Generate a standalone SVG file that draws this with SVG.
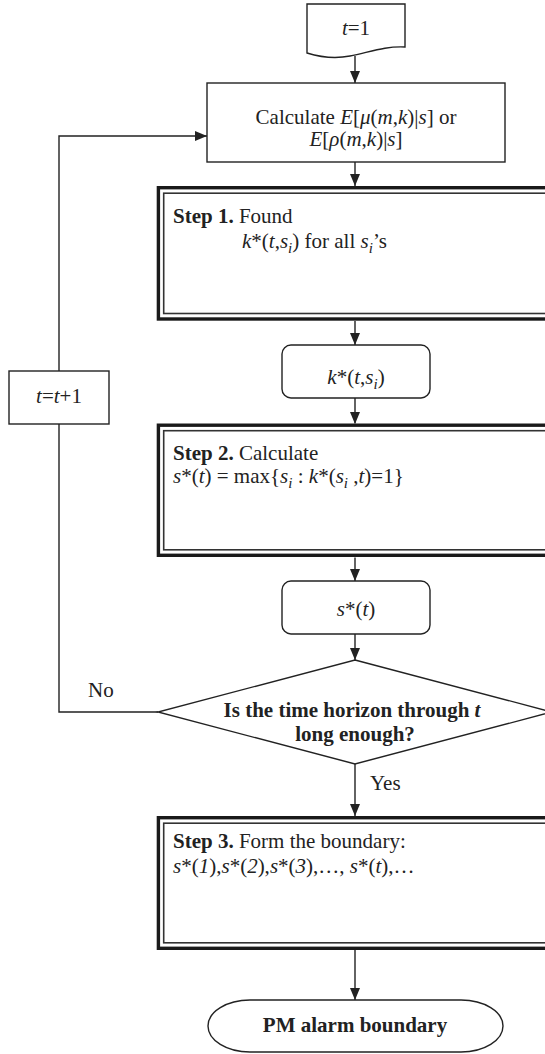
<svg xmlns="http://www.w3.org/2000/svg" width="545" height="1054" viewBox="0 0 545 1054">
<defs>
<style>
.ln{fill:none;stroke:#222;stroke-width:1.4}
.bx{fill:#fff;stroke:#222;stroke-width:1.4}
.o{fill:none;stroke:#1a1a1a;stroke-width:3.4}
.in{fill:none;stroke:#333;stroke-width:1.6}
text{font-family:"Liberation Serif","Times New Roman",serif;font-size:21px;fill:#222}
.c{text-anchor:middle}
.b{font-weight:bold}
.i{font-style:italic}
.sub{font-size:15px;font-style:italic}
</style>
<marker id="ah" markerUnits="userSpaceOnUse" markerWidth="12" markerHeight="10" refX="12" refY="5" orient="auto">
<path d="M0,0 L12,5 L0,10 Z" fill="#222"/>
</marker>
</defs>
<rect width="545" height="1054" fill="#fff"/>

<g id="connectors">
<line class="ln" x1="355" y1="56" x2="355" y2="83" marker-end="url(#ah)"/>
<line class="ln" x1="355" y1="162" x2="355" y2="186" marker-end="url(#ah)"/>
<line class="ln" x1="355" y1="321" x2="355" y2="345" marker-end="url(#ah)"/>
<line class="ln" x1="355" y1="398" x2="355" y2="424" marker-end="url(#ah)"/>
<line class="ln" x1="355" y1="557" x2="355" y2="581" marker-end="url(#ah)"/>
<line class="ln" x1="355" y1="634" x2="355" y2="660" marker-end="url(#ah)"/>
<line class="ln" x1="355" y1="764" x2="355" y2="816" marker-end="url(#ah)"/>
<line class="ln" x1="355" y1="950" x2="355" y2="1000" marker-end="url(#ah)"/>
<polyline class="ln" points="158,712 59,712 59,424"/>
<polyline class="ln" points="59,371 59,136 207,136" marker-end="url(#ah)"/>
<text x="88" y="697">No</text>
<text x="370" y="790">Yes</text>
</g>

<g id="start">
<path class="bx" d="M307,4 H405 V47 C385,46 370,52 350,56 C335,59 320,57 307,53 Z"/>
<text class="c" x="356" y="35"><tspan class="i">t</tspan>=1</text>
</g>

<g id="calc">
<rect class="bx" x="207" y="83" width="298" height="79"/>
<text class="c" x="356" y="124">Calculate <tspan class="i">E</tspan>[<tspan class="i">μ</tspan>(<tspan class="i">m</tspan>,<tspan class="i">k</tspan>)|<tspan class="i">s</tspan>] or</text>
<text class="c" x="356" y="146"><tspan class="i">E</tspan>[<tspan class="i">ρ</tspan>(<tspan class="i">m</tspan>,<tspan class="i">k</tspan>)|<tspan class="i">s</tspan>]</text>
</g>

<g id="step1">
<rect x="157" y="186" width="400" height="135" fill="#fff"/>
<rect class="o" x="158.4" y="187.7" width="400" height="131.3"/>
<rect class="in" x="163.7" y="193.2" width="400" height="120.3"/>
<text x="173" y="223"><tspan class="b">Step 1.</tspan> Found</text>
<text x="242" y="248"><tspan class="i">k</tspan>*(<tspan class="i">t</tspan>,<tspan class="i">s</tspan><tspan class="sub" dy="5">i</tspan><tspan dy="-5">) for all </tspan><tspan class="i">s</tspan><tspan class="sub" dy="5">i</tspan><tspan dy="-5">’s</tspan></text>
</g>

<g id="kstar">
<rect class="bx" x="282" y="345" width="148" height="53" rx="9"/>
<text class="c" x="356" y="384"><tspan class="i">k</tspan>*(<tspan class="i">t</tspan>,<tspan class="i">s</tspan><tspan class="sub" dy="5">i</tspan><tspan dy="-5">)</tspan></text>
</g>

<g id="tplus">
<rect class="bx" x="9" y="371" width="100" height="53"/>
<text class="c" x="59" y="403"><tspan class="i">t</tspan>=<tspan class="i">t</tspan>+1</text>
</g>

<g id="step2">
<rect x="157" y="423.5" width="400" height="134" fill="#fff"/>
<rect class="o" x="158.4" y="425.2" width="400" height="130.1"/>
<rect class="in" x="163.7" y="430.7" width="400" height="119.1"/>
<text x="173" y="460"><tspan class="b">Step 2.</tspan> Calculate</text>
<text x="173" y="483"><tspan class="i">s</tspan>*(<tspan class="i">t</tspan>) = max{<tspan class="i">s</tspan><tspan class="sub" dy="5">i</tspan><tspan dy="-5"> : </tspan><tspan class="i">k</tspan>*(<tspan class="i">s</tspan><tspan class="sub" dy="5">i</tspan><tspan dy="-5"> ,</tspan><tspan class="i">t</tspan>)=1}</text>
</g>

<g id="sstar">
<rect class="bx" x="282" y="581" width="148" height="53" rx="9"/>
<text class="c" x="356" y="616"><tspan class="i">s</tspan>*(<tspan class="i">t</tspan>)</text>
</g>

<g id="decision">
<polygon class="bx" points="355,660 552,712 355,764 158,712"/>
<text class="c b" x="352" y="717">Is the time horizon through <tspan class="i">t</tspan></text>
<text class="c b" x="355" y="741">long enough?</text>
</g>

<g id="step3">
<rect x="157" y="816" width="400" height="134" fill="#fff"/>
<rect class="o" x="158.4" y="817.7" width="400" height="130.6"/>
<rect class="in" x="163.7" y="823.2" width="400" height="119.6"/>
<text x="173" y="848"><tspan class="b">Step 3.</tspan> Form the boundary:</text>
<text x="173" y="873"><tspan class="i">s</tspan>*(<tspan class="i">1</tspan>),<tspan class="i">s</tspan>*(<tspan class="i">2</tspan>),<tspan class="i">s</tspan>*(<tspan class="i">3</tspan>),…, <tspan class="i">s</tspan>*(<tspan class="i">t</tspan>),…</text>
</g>

<g id="end">
<path class="bx" d="M250,1000 H461 A42,26 0 0 1 461,1052 H250 A42,26 0 0 1 250,1000 Z"/>
<text class="c b" x="355" y="1032">PM alarm boundary</text>
</g>
</svg>
